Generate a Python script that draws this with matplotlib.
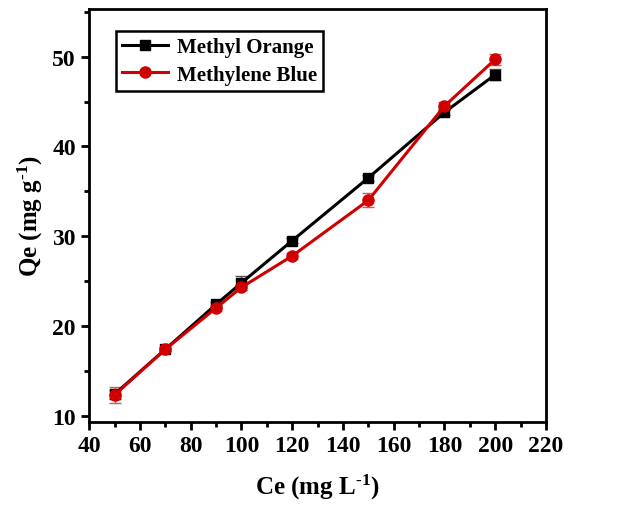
import matplotlib
matplotlib.use('Agg')
import matplotlib.pyplot as plt
from matplotlib.ticker import MultipleLocator

plt.rcParams['font.family'] = 'Liberation Serif'
plt.rcParams['font.weight'] = 'bold'
plt.rcParams['mathtext.fontset'] = 'custom'
plt.rcParams['mathtext.rm'] = 'Liberation Serif:bold'
plt.rcParams['mathtext.bf'] = 'Liberation Serif:bold'
plt.rcParams['mathtext.default'] = 'rm'

ce = [50, 70, 90, 100, 120, 150, 180, 200]
qe_mo = [12.4, 17.4, 22.4, 24.8, 29.5, 36.5, 43.8, 48.0]
err_mo = [0.5, 0.2, 0.3, 0.8, 0.3, 0.3, 0.3, 0.6]
qe_mb = [12.3, 17.4, 22.0, 24.3, 27.8, 34.0, 44.5, 49.7]
err_mb = [0.9, 0.2, 0.3, 0.3, 0.3, 0.8, 0.4, 0.6]

fig = plt.figure(figsize=(6.19, 5.06), dpi=100)
ax = fig.add_axes([0.144, 0.164, 0.738, 0.816])

# error bars first, lines + markers on top
ax.errorbar(ce, qe_mo, yerr=err_mo, fmt='none', capsize=4, elinewidth=1,
            ecolor='#555555')
ax.errorbar(ce, qe_mb, yerr=err_mb, fmt='none', capsize=4, elinewidth=1,
            ecolor='#e05050')
ax.plot(ce, qe_mo, color='black', marker='s', markersize=7, linewidth=2.2,
        label='Methyl Orange')
ax.plot(ce, qe_mb, color='#d00000', marker='o', markersize=8, linewidth=2.2,
        label='Methylene Blue')

ax.set_xlim(40, 220)
ax.set_ylim(9.3, 55.3)
ax.xaxis.set_major_locator(MultipleLocator(20))
ax.xaxis.set_minor_locator(MultipleLocator(10))
ax.yaxis.set_major_locator(MultipleLocator(10))
ax.yaxis.set_minor_locator(MultipleLocator(5))
ax.tick_params(which='major', direction='out', length=6, width=2, labelsize=17)
ax.tick_params(which='minor', direction='out', length=3.5, width=2)
for s in ax.spines.values():
    s.set_linewidth(2)

ax.set_xlabel('Ce (mg L$^{\\text{-1}}$)', fontsize=18, fontweight='bold', labelpad=11)
ax.set_ylabel('Qe (mg g$^{\\text{-1}}$)', fontsize=18, fontweight='bold', labelpad=5)

leg = ax.legend(loc='upper left', bbox_to_anchor=(0.059, 0.947), fontsize=15,
                frameon=True, fancybox=False, edgecolor='black', framealpha=1,
                handlelength=2.2, handletextpad=0.4, borderpad=0.3,
                labelspacing=0.35, borderaxespad=0)
leg.get_frame().set_linewidth(1.8)

fig.savefig('out.png', dpi=100)
